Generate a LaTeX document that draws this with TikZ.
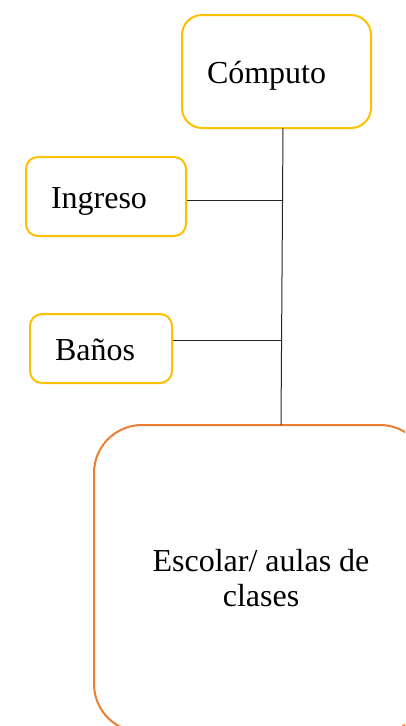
\documentclass[tikz,border=0pt]{standalone}
\usepackage{fontspec}
\setmainfont{Liberation Serif}
\definecolor{gold}{HTML}{FFC000}
\definecolor{orng}{HTML}{ED7D31}
\definecolor{lnk}{HTML}{262626}
\tikzset{
  ybox/.style={draw=gold, line width=2pt, rounded corners=#1, inner xsep=25pt, inner ysep=0pt,
    align=left, text height=32pt, text depth=8pt,
    font=\fontsize{32}{35}\selectfont},
  obox/.style={draw=orng, line width=2pt, rounded corners=48pt, inner sep=0pt,
    align=center, font=\fontsize{32}{35}\selectfont},
  link/.style={draw=lnk, line width=1pt}
}
\begin{document}
\begin{tikzpicture}[x=1pt,y=-1pt]
\useasboundingbox (0,0) rectangle (405,726);
\clip (0,0) rectangle (405,726);
\node[ybox=20pt, text width=139pt, minimum height=113pt] (comp) at (276.5,71.5) {Cómputo};
\node[ybox=12pt, text width=110pt, minimum height=79pt] (ing) at (106,196.5) {Ingreso};
\node[ybox=12pt, text width=92pt, minimum height=69pt] (ban) at (101,348.5) {Baños};
\node[obox, minimum width=334pt, minimum height=307pt] (esc) at (261,578.5) {Escolar/ aulas de\\clases};
\coordinate (vt) at (283,128);
\coordinate (vb) at (281,425);
\draw[link] (vt) -- (vb);
\draw[link] ([yshift=-3.5pt]ing.east) -- ([yshift=-3.5pt]ing.east -| vt);
\draw[link] ([yshift=8.5pt]ban.east) -- ([yshift=8.5pt]ban.east -| vb);
\end{tikzpicture}
\end{document}
